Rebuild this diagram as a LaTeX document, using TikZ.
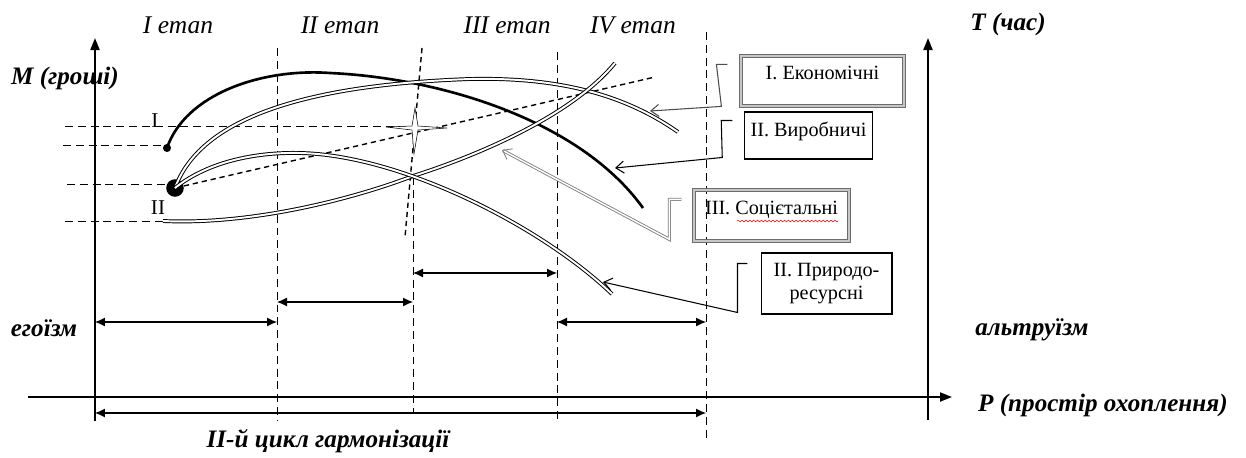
\documentclass[tikz,border=0pt]{standalone}
\usepackage{fontspec}
\setmainfont{Liberation Serif}
\usetikzlibrary{arrows.meta,positioning,decorations.pathmorphing}

\begin{document}
\begin{tikzpicture}[
        x=0.02cm, y=-0.02cm,
        axisline/.style={line width=1.1pt, -{Triangle[length=2.4mm,width=1.8mm]}},
        guide/.style={line width=0.5pt, dash pattern=on 4.5pt off 2.8pt},
        slant/.style={line width=0.8pt, dash pattern=on 3pt off 2.2pt},
        span/.style={line width=0.6pt, {Latex[length=2mm,width=1.8mm]}-{Latex[length=2mm,width=1.8mm]}},
        twin/.style={double, line width=0.55pt, double distance=1.1pt},
        solo/.style={line width=1.5pt},
        callout/.style={line width=0.6pt, -{Straight Barb[length=1.6mm,width=2.4mm]}},
        calloutdbl/.style={callout, draw=gray, double=white, line width=0.5pt, double distance=0.8pt},
        box/.style={rectangle, draw, line width=0.6pt, align=center,
            font=\fontsize{11.5}{13.5}\selectfont},
        boxdbl/.style={box, draw=gray!85!black, double=gray!45, line width=0.7pt, double distance=0.9pt},
        axlabel/.style={font=\fontsize{14.3}{16}\selectfont\bfseries\itshape},
        stage/.style={font=\fontsize{14.5}{16}\selectfont\itshape},
        curvelabel/.style={font=\fontsize{12}{14}\selectfont},
        blob/.style={circle, fill, inner sep=0pt}
    ]

        \useasboundingbox (0,0) rectangle (1246,457);

        % осі
        \coordinate (m0) at (95,421);
        \coordinate (m1) at (95,38);
        \coordinate (p0) at (28,397);
        \coordinate (p1) at (952,397);
        \coordinate (t0) at (928,420);
        \coordinate (t1) at (928,38);
        \draw[axisline] (m0) -- (m1);
        \draw[axisline] (p0) -- (p1);
        \draw[axisline] (t0) -- (t1);

        \node[axlabel] (mlab) at (65,78) {M (гроші)};
        \node[axlabel] (tlab) at (1008,24) {T (час)};
        \node[axlabel, right=0.4cm of p1, yshift=-0.16cm] (plab) {P (простір охоплення)};
        \node[axlabel] (ego) at (44,328) {егоїзм};
        \node[axlabel] (alt) at (1032,330) {альтруїзм};
        \node[axlabel] (cycle) at (328,441) {II-й цикл гармонізації};

        % етапи
        \node[stage] (st1) at (178,25) {I етап};
        \node[stage] (st2) at (340,25) {II етап};
        \node[stage] (st3) at (507,25) {III етап};
        \node[stage] (st4) at (633,25) {IV етап};

        % межі етапів
        \draw[guide] (277,48) -- (277,420);
        \draw[guide] (413,177) -- (413,412);
        \draw[guide] (557,52) -- (557,420);
        \draw[guide] (706,32) -- (706,440);
        \draw[slant] (422,48) -- (405,237);

        % рівні
        \draw[guide] (65,126) -- (413,126);
        \draw[guide] (63,145) -- (165,145);
        \draw[guide] (67,184) -- (170,184);
        \draw[guide] (65,221) -- (165,221);

        % точки старту
        \node[blob, minimum size=4.6pt] (sI) at (167,148) {};
        \node[blob, minimum size=10pt] (sII) at (175,188) {};
        \node[curvelabel] (lI) at (155,121) {I};
        \node[curvelabel] (lII) at (158,208) {II};

        % криві
        \draw[slant] (sII.center) -- (655,77);
        \draw[solo] (sI.center) .. controls (185,95) and (260,68) .. (330,73)
            .. controls (440,78) and (580,120) .. (643,208);
        \draw[twin] (sII.center) .. controls (200,120) and (300,85) .. (470,79)
            .. controls (560,77) and (625,95) .. (678,132);
        \draw[twin] (163,221) .. controls (250,225) and (350,200) .. (413,176)
            .. controls (470,158) and (570,118) .. (615,63);
        \draw[twin] (sII.center) .. controls (210,160) and (260,152) .. (300,153)
            .. controls (400,155) and (540,225) .. (612,294);
        \filldraw[fill=white, line width=0.3pt] (386,127) -- (412,126) -- (415,108) -- (418,126)
            -- (447,128) -- (418,130) -- (414,154) -- (412,130) -- cycle;

        % стрілки етапів
        \draw[span] (95,322) -- (277,322);
        \draw[span] (277,302) -- (413,302);
        \draw[span] (413,273) -- (557,273);
        \draw[span] (557,322) -- (706,322);
        \draw[span] (95,413) -- (706,413);

        % виноски
        \node[boxdbl, minimum width=3.26cm, minimum height=1cm, inner ysep=0.2cm, text depth=0.31cm] (econ) at (822.5,81) {І. Економічні};
        \node[box, minimum width=2.54cm, minimum height=0.94cm, inner ysep=0.2cm, text depth=0.25cm] (prod) at (808.5,135.5) {ІІ. Виробничі};
        \node[boxdbl, minimum width=3.1cm, minimum height=1.02cm, text depth=0.3cm] (soc) at (771.5,215.5) {ІІІ. Соцієтальні};
        \node[box, minimum width=2.62cm, minimum height=1.22cm] (nat) at (826.5,283.5) {ІІ. Природо-\\ресурсні};
        \draw[red, line width=0.3pt, decorate, decoration={snake, amplitude=0.5pt, segment length=2.2pt}] (737,221) -- (838,221);

        \coordinate (tipI) at (650,111);
        \coordinate (tipII) at (615,168);
        \coordinate (tipIII) at (502,150);
        \coordinate (tipIV) at (603,282);
        \draw[callout, draw=black!70] (econ.north west) ++(-13,9) -- ++(-11,0) -- ++(5,42) -- (tipI);
        \draw[callout] (prod.north west) ++(-12,9) -- ++(-11,0) -- ++(1,37) -- (tipII);
        \draw[calloutdbl] (soc.north west) ++(-12,10) -- ++(-12,0) -- ++(0,40) -- (tipIII);
        \draw[callout] (nat.north west) ++(-13,11) -- ++(-10,0) -- ++(0,49) -- (tipIV);

    \end{tikzpicture}
\end{document}
